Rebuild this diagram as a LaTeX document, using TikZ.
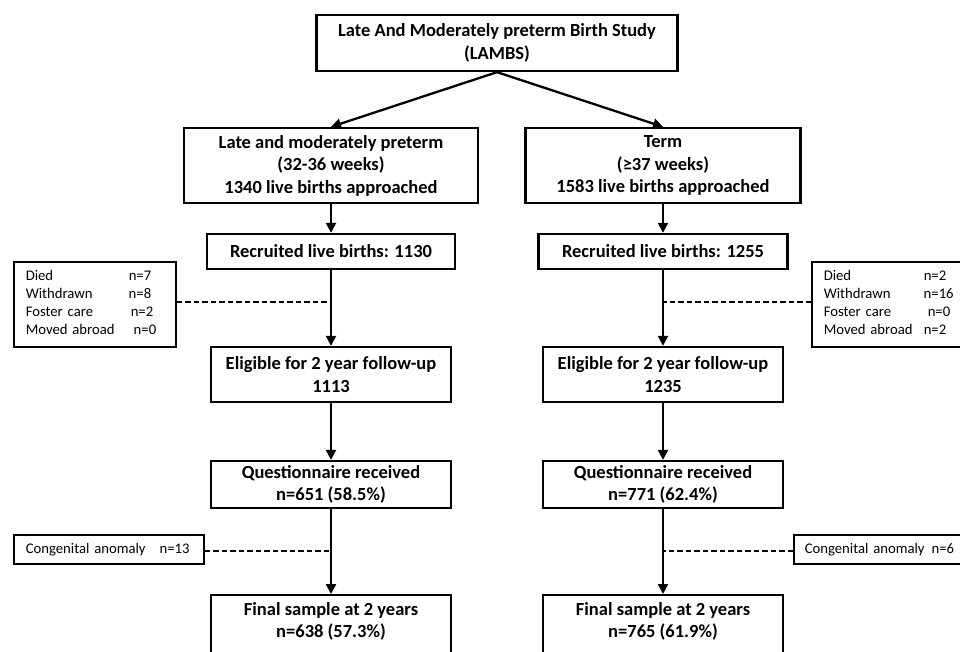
\documentclass[tikz,border=0pt]{standalone}
\usepackage{fontspec}
\setmainfont{Carlito}
\usetikzlibrary{arrows.meta}
\begin{document}
\begin{tikzpicture}[x=1pt,y=-1pt,
  mainfont/.style={font=\fontsize{18.5}{22.5}\selectfont\bfseries},
  mainbox/.style={draw,line width=2.3pt,inner sep=0pt,align=center,mainfont},
  sidebox/.style={draw,line width=1.5pt,inner ysep=0pt,inner xsep=12pt,align=left,font=\fontsize{14.7}{18}\selectfont},
  flow/.style={line width=2.3pt,-{Triangle[length=10pt,width=10pt]}},
  exclude/.style={line width=1.5pt,dash pattern=on 5.5pt off 3pt}]
\clip (0,0) rectangle (960,652);
\node[mainbox,minimum width=361,minimum height=56] (top) at (497,43) {Late And Moderately preterm Birth Study\\(LAMBS)};
\node[mainbox,minimum width=294,minimum height=75] (l1) at (331,165.5) {Late and moderately preterm\\(32-36 weeks)\\1340 live births approached};
\node[mainbox,minimum width=275,minimum height=75] (r1) at (663,165.5) {Term\\(≥37 weeks)\\1583 live births approached};
\node[mainbox,minimum width=248,minimum height=35] (l2) at (331,251.5) {Recruited live births: 1130};
\node[mainbox,minimum width=249,minimum height=35] (r2) at (663,251.5) {Recruited live births: 1255};
\node[mainbox,minimum width=240,minimum height=55] (l3) at (331,374.5) {Eligible for 2 year follow-up\\1113};
\node[mainbox,minimum width=240,minimum height=55] (r3) at (663,374.5) {Eligible for 2 year follow-up\\1235};
\node[mainbox,minimum width=240,minimum height=47] (l4) at (331,484.5) {Questionnaire received\\n=651 (58.5\%)};
\node[mainbox,minimum width=240,minimum height=47] (r4) at (663,484.5) {Questionnaire received\\n=771 (62.4\%)};
\node[mainbox,minimum width=240,minimum height=70,anchor=north] (l5) at (331,594) {};
\node[mainbox,minimum width=240,minimum height=70,anchor=north] (r5) at (663,594) {};
\node[mainfont,align=center,anchor=north,inner sep=0pt] (l5t) at (331,602) {Final sample at 2 years\\n=638 (57.3\%)};
\node[mainfont,align=center,anchor=north,inner sep=0pt] (r5t) at (663,602) {Final sample at 2 years\\n=765 (61.9\%)};
\node[sidebox,minimum height=85,anchor=north west,text width=138] (ls) at (13,261) {\begin{tabular}{@{}l@{}l@{}}
\makebox[103pt][l]{Died} & n=7\\
Withdrawn & n=8\\
Foster care & \hspace{2pt}n=2\\
Moved abroad & \hspace{5pt}n=0
\end{tabular}};
\node[sidebox,minimum height=85,anchor=north west,text width=140] (rs) at (811,261) {\begin{tabular}{@{}l@{}l@{}}
\makebox[100pt][l]{Died} & n=2\\
Withdrawn & n=16\\
Foster care & \hspace{4pt}n=0\\
Moved abroad & n=2
\end{tabular}};
\node[sidebox,minimum height=29,anchor=north west,text width=166] (lc) at (13,534) {Congenital anomaly\hspace{14pt}n=13};
\node[sidebox,minimum height=29,anchor=north west,inner xsep=11pt,text width=160] (rc) at (793,534) {Congenital anomaly\hspace{7pt}n=6};
\coordinate (ld) at (331,302);
\coordinate (rd) at (663,302);
\coordinate (lcd) at (331,551);
\coordinate (rcd) at (663,551);
\draw[flow] (top.south) -- (l1.north);
\draw[flow] (top.south) -- (r1.north);
\draw[flow] (l1.south) -- (l2.north);
\draw[flow] (r1.south) -- (r2.north);
\draw[flow] (l2.south) -- (l3.north);
\draw[flow] (r2.south) -- (r3.north);
\draw[flow] (l3.south) -- (l4.north);
\draw[flow] (r3.south) -- (r4.north);
\draw[flow] (l4.south) -- (l5.north);
\draw[flow] (r4.south) -- (r5.north);
\draw[exclude] (ls.east |- ld) -- (ld);
\draw[exclude] (rs.west |- rd) -- (rd);
\draw[exclude] (lc.east |- lcd) -- (lcd);
\draw[exclude] (rc.west |- rcd) -- (rcd);
\end{tikzpicture}
\end{document}
